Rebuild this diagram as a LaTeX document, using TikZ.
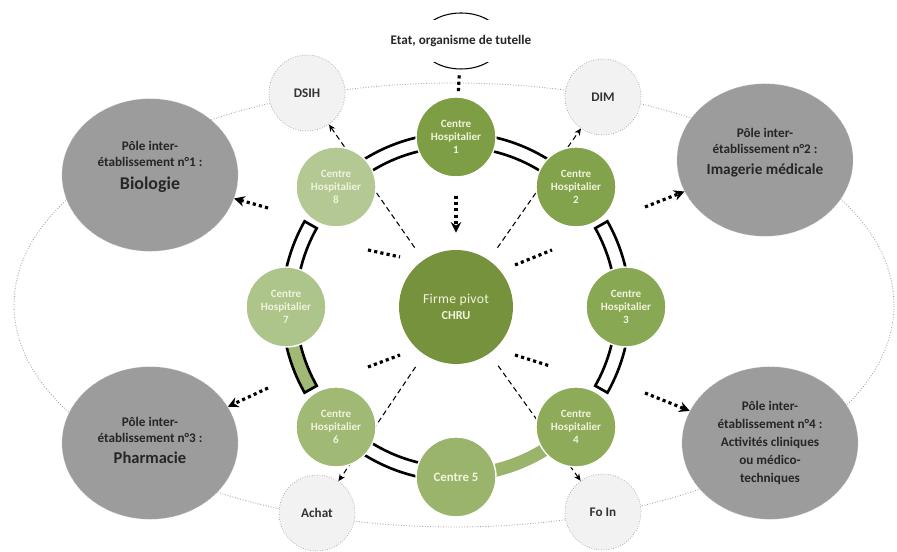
\documentclass[tikz,border=0pt]{standalone}
\usepackage{fontspec}
\setmainfont{Carlito}
\usetikzlibrary{shapes.geometric, arrows.meta}

\definecolor{pivotGreen}{HTML}{76923C}
\definecolor{chA}{HTML}{7E9E45}
\definecolor{chB}{HTML}{82A24B}
\definecolor{chC}{HTML}{89A853}
\definecolor{chD}{HTML}{8DAB58}
\definecolor{chE}{HTML}{9AB56B}
\definecolor{chF}{HTML}{A0B974}
\definecolor{chG}{HTML}{ADC48A}
\definecolor{chH}{HTML}{B3C892}
\definecolor{chText}{HTML}{F1F4DC}
\definecolor{poleGray}{HTML}{9C9C9C}
\definecolor{auxGray}{HTML}{F2F2F2}

\begin{document}
\begin{tikzpicture}[x=0.02cm, y=0.02cm,
    ch/.style={circle, draw=white, line width=0.8pt, minimum size=1.6cm, inner sep=0pt, align=center, text=chText, font=\fontsize{6.3}{7.4}\selectfont\bfseries},
    pole/.style={ellipse, draw=gray!50, densely dotted, fill=poleGray, minimum width=3.52cm, minimum height=3.05cm, inner sep=0pt, align=center, text=black!85, font=\fontsize{7.5}{9.2}\selectfont\bfseries},
    aux/.style={circle, draw=gray!75, densely dotted, fill=auxGray, minimum size=1.52cm, inner sep=0pt, text=black!80, font=\fontsize{7.5}{9}\selectfont\bfseries},
    dotline/.style={line width=1.8pt, dash pattern=on 1.8pt off 1.8pt},
    dotarrow/.style={dotline, -{Stealth[length=6pt, width=6pt]}},
    thinarrow/.style={densely dashed, line width=0.6pt, -{Stealth[length=4pt, width=3.5pt]}, shorten <=0.3cm},
    pipe/.style={line width=1.5pt}
]
    % Page
    \fill[white] (0,0) rectangle (897,550);

    % Outer dotted ring and state ellipse
    \draw[gray!70, densely dotted, line width=0.5pt] (454,245) ellipse (440 and 222);
    \draw[line width=0.6pt] (461,509) ellipse (41 and 28);
    \node[fill=white, minimum height=0.84cm, inner xsep=4pt, text=black!85, font=\fontsize{7.5}{9}\selectfont\bfseries] (etat) at (461,509) {Etat, organisme de tutelle};

    % Pivot firm
    \node[circle, fill=pivotGreen, minimum size=2.28cm, inner sep=0pt, align=center, text=chText, font=\fontsize{7}{9.4}\selectfont] (chru) at (456,243) {{\fontsize{7.8}{9}\selectfont\addfontfeature{LetterSpace=2}Firme pivot}\\{\bfseries CHRU}};

    % Inter-establishment poles
    \node[pole, text depth=11pt] (p1) at (150,375) {Pôle inter-\\établissement n°1 :\\[3.8pt]{\fontsize{10.2}{12}\selectfont Biologie}};
    \node[pole, text depth=10pt] (p2) at (765,390) {Pôle inter-\\établissement n°2 :\\[2.9pt]{\fontsize{8.7}{10}\selectfont Imagerie médicale}};
    \node[pole, text depth=3.4pt] (p3) at (150,107) {Pôle inter-\\établissement n°3 :\\[2.7pt]{\fontsize{9.4}{11}\selectfont Pharmacie}};
    \node[pole, font=\fontsize{7.5}{10.3}\selectfont\bfseries] (p4) at (770,107) {Pôle inter-\\établissement n°4 :\\Activités cliniques\\ou médico-\\techniques};

    % Shared services
    \node[aux] (dsih) at (307,457) {DSIH};
    \node[aux] (dim) at (603,453) {DIM};
    \node[aux] (achat) at (317,37) {Achat};
    \node[aux] (foin) at (603,38) {Fo In};

    % Ring between centres
    \begin{scope}[shift={(456,243)}]
        \draw[pipe] (90:160) arc[start angle=90, end angle=135, radius=160];
        \draw[pipe] (90:174) arc[start angle=90, end angle=135, radius=174];
        \draw[pipe] (45:160) arc[start angle=45, end angle=90, radius=160];
        \draw[pipe] (45:174) arc[start angle=45, end angle=90, radius=174];
        \draw[pipe, fill=white] (0:160) arc[start angle=0, end angle=29.5, radius=160] -- (29.5:174) arc[start angle=29.5, end angle=0, radius=174] -- cycle;
        \draw[pipe, fill=white] (0:160) arc[start angle=0, end angle=-29.5, radius=160] -- (-29.5:174) arc[start angle=-29.5, end angle=0, radius=174] -- cycle;
        \draw[line width=0.26cm, color=chE] (-90:168) arc[start angle=-90, end angle=-45, radius=168];
        \draw[pipe] (-135:160) arc[start angle=-135, end angle=-90, radius=160];
        \draw[pipe] (-135:174) arc[start angle=-135, end angle=-90, radius=174];
        \draw[pipe, fill=chF] (180:160) arc[start angle=180, end angle=209.5, radius=160] -- (209.5:174) arc[start angle=209.5, end angle=180, radius=174] -- cycle;
        \draw[pipe, fill=white] (180:160) arc[start angle=180, end angle=150.5, radius=160] -- (150.5:174) arc[start angle=150.5, end angle=180, radius=174] -- cycle;
    \end{scope}

    % Links from the pivot
    \draw[thinarrow] (chru) -- (dsih);
    \draw[thinarrow] (chru) -- (dim);
    \draw[thinarrow] (chru) -- (achat);
    \draw[thinarrow] (chru) -- (foin);

    \draw[dotline] (368,300) -- (400,293);
    \draw[dotline] (515,285) -- (552,300);
    \draw[dotline] (368,183) -- (400,195);
    \draw[dotline] (515,195) -- (550,184);

    % Arrows towards the poles
    \coordinate (toP1) at (268,342);
    \coordinate (toP2) at (645,343);
    \coordinate (toP3) at (268,162);
    \coordinate (toP4) at (645,157);
    \draw[dotarrow] (toP1) -- (p1);
    \draw[dotarrow] (toP2) -- (p2);
    \draw[dotarrow] (toP3) -- (p3);
    \draw[dotarrow] (toP4) -- (p4);

    % Hospital centres
    \node[ch, fill=chA] (ch1) at (456,413) {Centre\\Hospitalier\\1};
    \node[ch, fill=chB] (ch2) at (576,363) {Centre\\Hospitalier\\2};
    \node[ch, fill=chC] (ch3) at (626,243) {Centre\\Hospitalier\\3};
    \node[ch, fill=chD] (ch4) at (576,123) {Centre\\Hospitalier\\4};
    \node[ch, fill=chE, font=\fontsize{7.3}{8}\selectfont\bfseries] (ch5) at (456,73) {Centre 5};
    \node[ch, fill=chF] (ch6) at (336,123) {Centre\\Hospitalier\\6};
    \node[ch, fill=chG] (ch7) at (286,243) {Centre\\Hospitalier\\7};
    \node[ch, fill=chH] (ch8) at (336,363) {Centre\\Hospitalier\\8};

    \draw[dotline, shorten <=0.26cm, shorten >=0.1cm] (etat) -- (ch1);
    \draw[dotarrow, shorten <=0.36cm, shorten >=0.34cm] (ch1) -- (chru);
\end{tikzpicture}
\end{document}
